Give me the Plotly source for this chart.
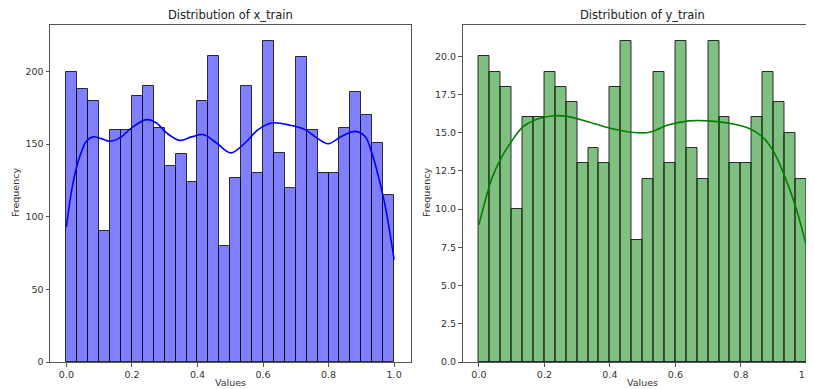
import numpy as np
import plotly.graph_objects as go

# ---- data ----
bin_edges = np.linspace(0.0, 1.0, 31)

x_train_counts = [200, 188, 180, 90, 160, 160, 183, 190, 161, 135,
                  143, 124, 180, 211, 80, 127, 190, 130, 221, 144,
                  120, 210, 160, 130, 130, 161, 186, 170, 151, 115]

y_train_counts = [20, 19, 18, 10, 16, 16, 19, 18, 17, 13,
                  14, 13, 18, 21, 8, 12, 19, 13, 21, 14,
                  12, 21, 16, 13, 13, 16, 19, 17, 15, 12]

x_kde_x = [0.0, 0.02, 0.041, 0.061, 0.081, 0.107, 0.132, 0.163, 0.199, 0.244,
           0.275, 0.306, 0.346, 0.382, 0.417, 0.458, 0.502, 0.545, 0.585, 0.626,
           0.687, 0.728, 0.764, 0.799, 0.84, 0.881, 0.911, 0.932, 0.952, 0.973, 1.0]
x_kde_y = [93, 123, 141.6, 152, 155, 153.8, 152, 154.3, 161.2, 166.9,
           164.6, 157.7, 152.6, 155, 156.6, 150.8, 144, 150.8, 160, 164.6,
           162.8, 160, 154.3, 150.3, 155.4, 158.8, 155.4, 144, 127.8, 107.1, 70.5]

y_kde_x = [0.0, 0.02, 0.04, 0.065, 0.096, 0.136, 0.177, 0.228, 0.269, 0.33,
           0.401, 0.472, 0.518, 0.58, 0.641, 0.702, 0.763, 0.824, 0.865, 0.9,
           0.936, 0.967, 1.0]
y_kde_y = [8.97, 10.6, 12.03, 13.23, 14.32, 15.41, 15.89, 16.11, 16.07, 15.74,
           15.3, 15.02, 15.02, 15.52, 15.78, 15.78, 15.63, 15.3, 14.75, 13.77,
           12.03, 10.17, 7.6]

titles = ["Distribution of x_train", "Distribution of y_train"]
x_label = "Values"
y_label = "Frequency"
x_ticks = [0.0, 0.2, 0.4, 0.6, 0.8, 1.0]
left_y_ticks = [0, 50, 100, 150, 200]
right_y_ticks = [0.0, 2.5, 5.0, 7.5, 10.0, 12.5, 15.0, 17.5, 20.0]

# ---- layout geometry (window pixels; page body has an 8px margin) ----
WIN_W, WIN_H = 814, 389
OFF = 8
W, H = WIN_W - OFF, WIN_H - OFF
PLOT_L, PLOT_T, PLOT_B, PLOT_R = 50, 25, 362, WIN_W
PW = PLOT_R - PLOT_L
PH = PLOT_B - PLOT_T

centers = (bin_edges[:-1] + bin_edges[1:]) / 2
bw = bin_edges[1] - bin_edges[0]

fig = go.Figure()
fig.add_trace(go.Bar(x=centers, y=x_train_counts, width=bw,
                     marker=dict(color="rgba(0,0,255,0.5)",
                                 line=dict(color="rgba(15,15,15,0.85)", width=1)),
                     xaxis="x", yaxis="y", showlegend=False))
fig.add_trace(go.Scatter(x=x_kde_x, y=x_kde_y, mode="lines",
                         line=dict(color="#0000ff", width=1.6, shape="spline", smoothing=1.0),
                         xaxis="x", yaxis="y", showlegend=False))
fig.add_trace(go.Bar(x=centers, y=y_train_counts, width=bw,
                     marker=dict(color="rgba(0,128,0,0.5)",
                                 line=dict(color="rgba(15,15,15,0.85)", width=1)),
                     xaxis="x2", yaxis="y2", showlegend=False))
fig.add_trace(go.Scatter(x=y_kde_x, y=y_kde_y, mode="lines",
                         line=dict(color="#008000", width=1.6, shape="spline", smoothing=1.0),
                         xaxis="x2", yaxis="y2", showlegend=False))

tickfont = dict(family="DejaVu Sans", size=9.5, color="#333")
axcommon = dict(showgrid=False, zeroline=False, showline=True, linecolor="#555",
                linewidth=1, ticks="outside", ticklen=3.5, tickcolor="#555",
                tickfont=tickfont, automargin=False, ticklabeloverflow="allow")

left_dom = [0.0, (410.5 - PLOT_L) / PW]
right_dom = [(462.5 - PLOT_L) / PW, 1.0]
right_xmax = -0.05 + (WIN_W - 462.5) / 327.5

fig.update_layout(
    width=W, height=H,
    margin=dict(l=PLOT_L - OFF, r=0, t=PLOT_T - OFF, b=WIN_H - PLOT_B, pad=0, autoexpand=False),
    plot_bgcolor="white", paper_bgcolor="white",
    bargap=0,
    xaxis=dict(domain=left_dom, range=[-0.05, 1.05], anchor="y",
               tickvals=x_ticks, tickformat=".1f", mirror=True, **axcommon),
    yaxis=dict(domain=[0, 1], range=[0, 232.05], anchor="x",
               tickvals=left_y_ticks, mirror=True, **axcommon),
    xaxis2=dict(domain=right_dom, range=[-0.05, right_xmax],
                anchor="y2", tickvals=x_ticks, tickformat=".1f", mirror=True, **axcommon),
    yaxis2=dict(domain=[0, 1], range=[0, 22.05], anchor="x2",
                tickvals=right_y_ticks, tickformat=".1f", mirror=False, **axcommon),
)

def px_x(p):
    return (p - PLOT_L) / PW

def px_y(p):
    return (PLOT_B - p) / PH

title_font = dict(family="DejaVu Sans", size=11.5, color="#222")
label_font = dict(family="DejaVu Sans", size=9.5, color="#333")
ann = [
    dict(text=titles[0], x=px_x((50 + 410.5) / 2), y=px_y(15.5), font=title_font),
    dict(text=titles[1], x=px_x((462.5 + 822.5) / 2), y=px_y(15.5), font=title_font),
    dict(text=x_label, x=px_x(230), y=px_y(382), font=label_font),
    dict(text=x_label, x=px_x(642.5), y=px_y(382), font=label_font),
    dict(text=y_label, x=px_x(15), y=px_y(193), textangle=-90, font=label_font),
    dict(text=y_label, x=px_x(426), y=px_y(193), textangle=-90, font=label_font),
]
for a in ann:
    a.update(xref="paper", yref="paper", showarrow=False,
             xanchor="center", yanchor="middle")
fig.update_layout(annotations=ann)

fig.write_html("out.html")
